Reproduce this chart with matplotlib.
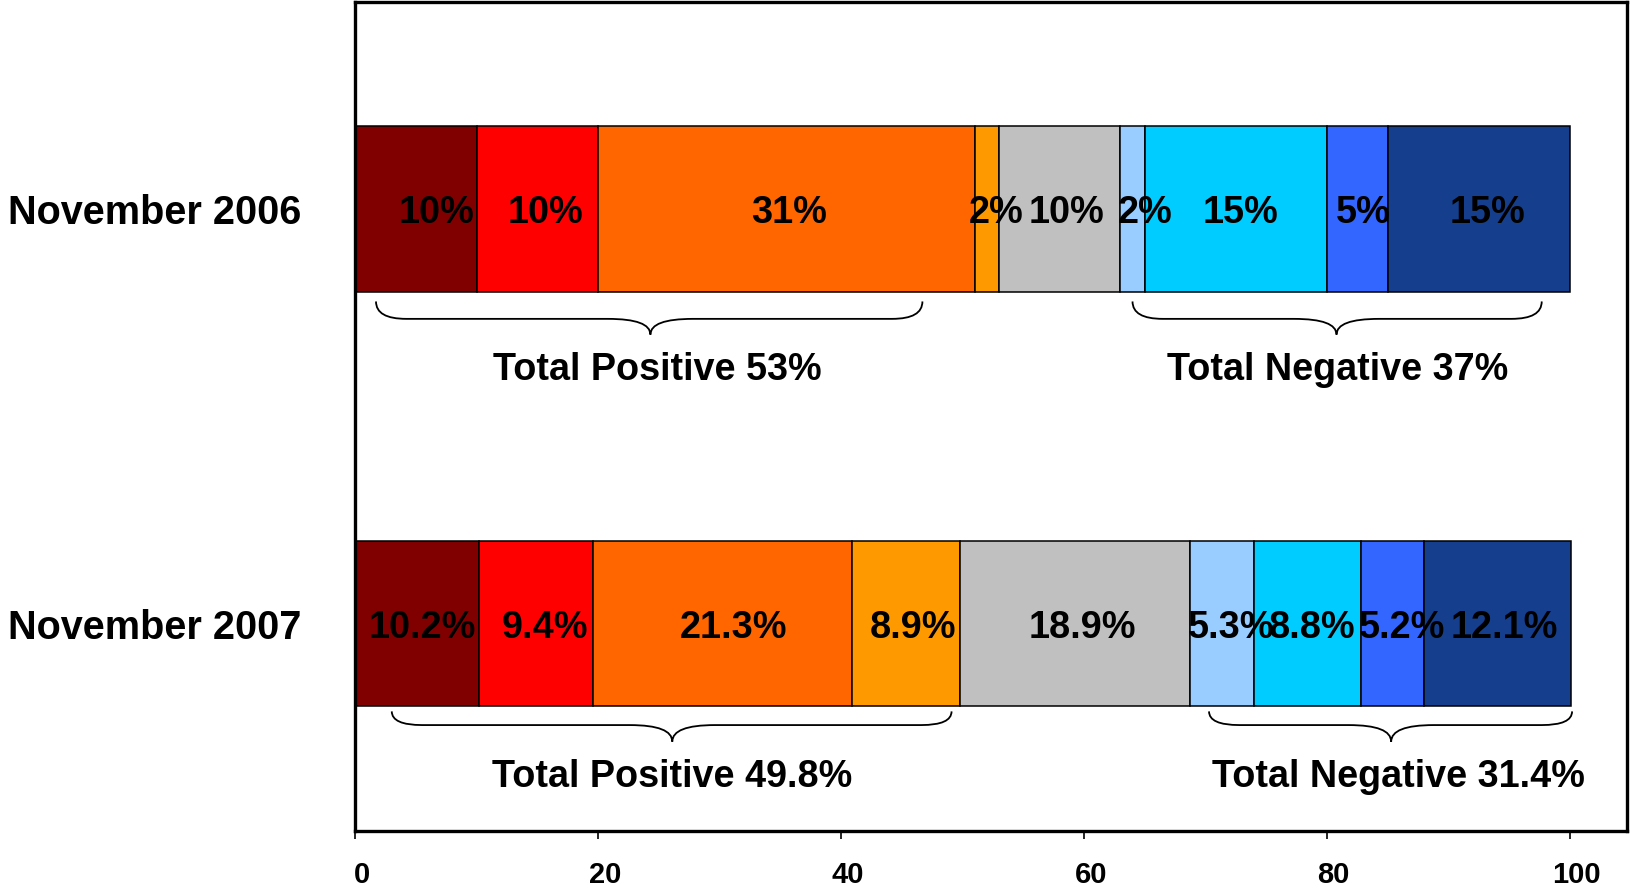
import matplotlib
matplotlib.use("Agg")
import matplotlib.pyplot as plt
import matplotlib.transforms as mtransforms
from matplotlib.path import Path
from matplotlib.patches import PathPatch
import numpy as np

plt.rcParams['font.family'] = ['Liberation Sans', 'DejaVu Sans']
plt.rcParams['font.weight'] = 'bold'

# ---- data ----
periods = ["November 2006", "November 2007"]
vals_2006 = [10, 10, 31, 2, 10, 2, 15, 5, 15]
vals_2007 = [10.2, 9.4, 21.3, 8.9, 18.9, 5.3, 8.8, 5.2, 12.1]
labels_2006 = ["10%", "10%", "31%", "2%", "10%", "2%", "15%", "5%", "15%"]
labels_2007 = ["10.2%", "9.4%", "21.3%", "8.9%", "18.9%", "5.3%", "8.8%", "5.2%", "12.1%"]
seg_colors = ["#800000", "#FF0000", "#FF6600", "#FF9900", "#C0C0C0",
              "#99CCFF", "#00CCFF", "#3366FF", "#153F8C"]
totals_2006 = ["Total Positive 53%", "Total Negative 37%"]
totals_2007 = ["Total Positive 49.8%", "Total Negative 31.4%"]

# layout tweaks (label nudges in x units, brace spans, total label x)
nudge_2006 = [1.7, 0.7, 0.2, 0.8, 0.6, 1.0, 0.4, 0.5, 0.7]
nudge_2007 = [0.4, 0.7, 0.9, 0.6, 0.6, 0.8, 0.4, 0.8, 0.6]
braces_2006 = [(1.7, 46.7, 24.3), (64.0, 97.7, 80.8)]
braces_2007 = [(3.0, 49.1, 26.1), (70.3, 100.2, 85.3)]
total_x_2006 = [24.9, 80.9]
total_x_2007 = [26.05, 85.9]


def brace(ax, x0, x1, xm, ytip, yline, ycusp, r=2.5, rm=3.5):
    verts = [(x0, ytip),
             (x0, yline), (x0 + r, yline),
             (xm - rm, yline),
             (xm, yline), (xm, ycusp),
             (xm, yline), (xm + rm, yline),
             (x1 - r, yline),
             (x1, yline), (x1, ytip)]
    codes = [Path.MOVETO,
             Path.CURVE3, Path.CURVE3,
             Path.LINETO,
             Path.CURVE3, Path.CURVE3,
             Path.CURVE3, Path.CURVE3,
             Path.LINETO,
             Path.CURVE3, Path.CURVE3]
    ax.add_patch(PathPatch(Path(verts, codes), facecolor='none',
                           edgecolor='black', lw=1.3, clip_on=False))


fig = plt.figure(figsize=(16.3, 8.89), dpi=100)
ax = fig.add_axes([0.218, 0.0655, 0.780, 0.9325])

rows = [(1, vals_2006, labels_2006, nudge_2006),
        (0, vals_2007, labels_2007, nudge_2007)]
for y, vals, labs, nudge in rows:
    left = np.concatenate([[0], np.cumsum(vals)[:-1]])
    ax.barh(y, vals, left=left, height=0.4, color=seg_colors,
            edgecolor='black', linewidth=1.1)
    for l, v, t, dx in zip(left, vals, labs, nudge):
        ax.text(l + v / 2 + dx, y - 0.01, t, ha='center', va='center',
                fontsize=27.3, fontweight='bold', color='black')

# braces and totals
for (x0, x1, xm), t, tx in zip(braces_2006, totals_2006, total_x_2006):
    brace(ax, x0, x1, xm, 0.777, 0.735, 0.697)
    ax.text(tx, 0.612, t, ha='center', va='center',
            fontsize=27.2, fontweight='bold')
for (x0, x1, xm), t, tx in zip(braces_2007, totals_2007, total_x_2007):
    brace(ax, x0, x1, xm, -0.212, -0.245, -0.285)
    ax.text(tx, -0.371, t, ha='center', va='center',
            fontsize=27.2, fontweight='bold')

ax.set_xlim(0, 104.7)
ax.set_ylim(-0.5, 1.5)
ax.set_xticks([0, 20, 40, 60, 80, 100])
ax.set_xticklabels(["0", "20", "40", "60", "80", "100"], fontsize=21,
                   fontweight='bold')
ax.tick_params(axis='x', direction='out', length=6, width=1.2, pad=16)
shift = mtransforms.ScaledTranslation(7 / 100, 0, fig.dpi_scale_trans)
for lab in ax.get_xticklabels():
    lab.set_transform(lab.get_transform() + shift)
ax.set_yticks([1, 0])
ax.set_yticklabels(periods, fontsize=28.5, fontweight='bold')
ax.tick_params(axis='y', length=0, pad=39)
for sp in ax.spines.values():
    sp.set_linewidth(2.4)

fig.savefig("out.png", dpi=100)
